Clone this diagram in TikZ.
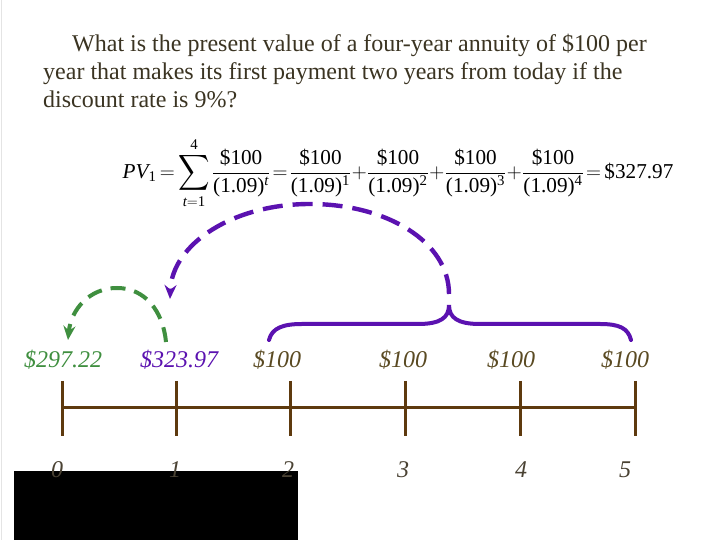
\documentclass[tikz,border=0pt]{standalone}
\usepackage{fontspec}
\setmainfont{Liberation Serif}
\usepackage{xcolor}
\usepackage{graphicx}
\usepackage{tikz}
\usetikzlibrary{arrows.meta}
\usepackage{amsmath}
\tikzset{>=Stealth}
\definecolor{QuestionText}{HTML}{3B3422}
\definecolor{PayText}{HTML}{5A4A22}
\definecolor{PvPurple}{HTML}{5B12B0}
\definecolor{PvGreen}{HTML}{3F8F3F}
\definecolor{LineBrown}{HTML}{5E3A0E}
\definecolor{TickText}{HTML}{4A4233}
\definecolor{FrameGray}{HTML}{E4E4E4}
\newcommand{\questionfont}{\fontsize{24}{28}\selectfont}
\newcommand{\cashfont}{\fontsize{24}{28}\selectfont\itshape}
\newcommand{\formulafont}{\fontsize{21.2}{24}\selectfont\thickmuskip=3mu\medmuskip=1.5mu\nulldelimiterspace=0pt}
\newcommand{\pvfrac}[2]{\genfrac{}{}{0.3pt}{0}{\text{#1}}{\text{#2}}}
\newcommand{\bigsum}{\mathop{\vcenter{\hbox{\scalebox{1.05}[1.2]{$\displaystyle\sum$}}}}\limits}
\tikzset{
  question/.style={text=QuestionText, font=\questionfont, anchor=base west, inner sep=0pt},
  cash/.style={font=\cashfont, anchor=base, inner sep=0pt},
  yearnum/.style={text=TickText, font=\cashfont, anchor=base, inner sep=0pt},
  timeline/.style={draw=LineBrown, line width=3pt},
  discount/.style={dash pattern=on 20pt off 10pt, line width=4.4pt, ->, >={Stealth[length=14pt,width=12pt]}}
}

\begin{document}
\begin{tikzpicture}[x=1pt,y=1pt]
  \useasboundingbox (0,0) rectangle (720,540);
  \fill[white] (0,0) rectangle (720,540);
  \draw[FrameGray, line width=1.5pt] (1.5,0) -- (1.5,540);

  %% Question
  \node[question] (q1) at (72,488) {What is the present value of a four-year annuity of \$100 per};
  \node[question] (q2) at (43,460) {year that makes its first payment two years from today if the};
  \node[question] (q3) at (43,432) {discount rate is 9\%?};

  %% Formula
  \node[font=\formulafont, inner sep=0pt] (formula) at (398,367)
    {$\displaystyle \textit{PV}_{\text{1}}=\bigsum_{\textit{t}=\text{1}}^{\text{4}}\pvfrac{\$100}{(1.09)$^{\textit{t}}$}
      =\pvfrac{\$100}{(1.09)$^{\text{1}}$}+\pvfrac{\$100}{(1.09)$^{\text{2}}$}
      +\pvfrac{\$100}{(1.09)$^{\text{3}}$}+\pvfrac{\$100}{(1.09)$^{\text{4}}$}=\text{\$327.97}$};

  %% Cash flows
  \node[cash, text=PvGreen] (pv0) at (63,172) {\$297.22};
  \node[cash, text=PvPurple] (pv1) at (179,172) {\$323.97};
  \node[cash, text=PayText] (pay2) at (277,172) {\$100};
  \node[cash, text=PayText] (pay3) at (403,172) {\$100};
  \node[cash, text=PayText] (pay4) at (511,172) {\$100};
  \node[cash, text=PayText] (pay5) at (625,172) {\$100};

  %% Time line
  \draw[timeline] (62,132) -- (635,132);
  \draw[timeline] (62,159) -- (62,104);
  \draw[timeline] (176,159) -- (176,104);
  \draw[timeline] (290,159) -- (290,104);
  \draw[timeline] (405,159) -- (405,104);
  \draw[timeline] (520,159) -- (520,104);
  \draw[timeline] (635,159) -- (635,104);

  \fill[black] (14,0) rectangle (298,69);

  \node[yearnum] (t0) at (57,62) {0};
  \node[yearnum] (t1) at (175,62) {1};
  \node[yearnum] (t2) at (288,62) {2};
  \node[yearnum] (t3) at (403,62) {3};
  \node[yearnum] (t4) at (521,62) {4};
  \node[yearnum] (t5) at (625,62) {5};

  %% Brace over the payments
  \coordinate (cusp) at (449,235);
  \draw[PvPurple, line width=4pt, line cap=round]
    (269,200) .. controls (272,212) and (283,216) .. (302,216) -- (418,216)
    .. controls (440,216) and (449,222) .. (cusp)
    .. controls (449,222) and (458,216) .. (480,216) -- (600,216)
    .. controls (619,216) and (628,212) .. (631,200);

  %% Discounting arrows
  \coordinate (arcstart) at (449,246);
  \coordinate (pv1in) at (170,241);
  \coordinate (pv1out) at (166,198);
  \coordinate (pv0in) at (68,200);
  \draw[discount, PvPurple] (arcstart) .. controls (449,298) and (387,336) .. (310,336)
    .. controls (233,336) and (172,296) .. (pv1in);
  \draw[discount, PvGreen, dash pattern=on 15pt off 9pt, line width=4pt]
    (pv1out) .. controls (163,229) and (145,252) .. (117,252)
    .. controls (89,252) and (71,230) .. (pv0in);
\end{tikzpicture}
\end{document}
